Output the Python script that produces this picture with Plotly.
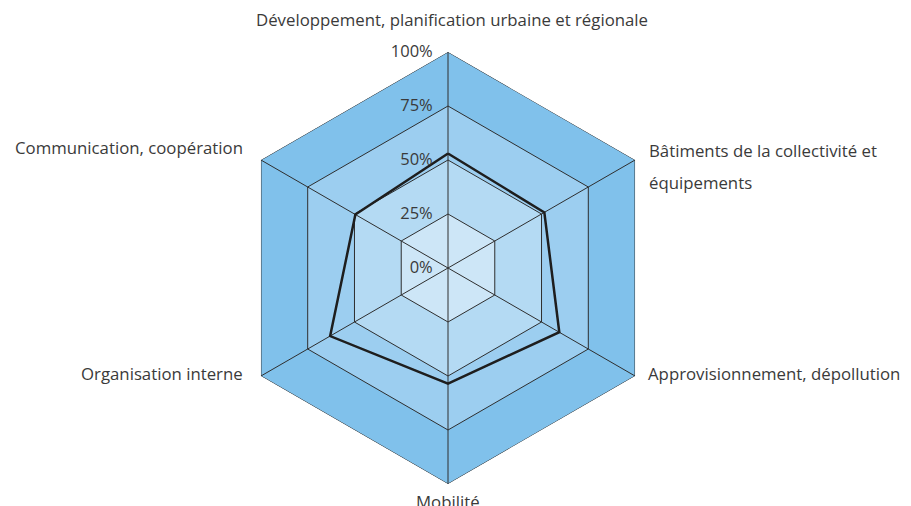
import math
import plotly.graph_objects as go

categories = [
    "Développement, planification urbaine et régionale",
    "Bâtiments de la collectivité et<br>équipements",
    "Approvisionnement, dépollution",
    "Mobilité",
    "Organisation interne",
    "Communication, coopération",
]
values = [53, 51.5, 59.5, 53.5, 63, 49.5]
band_levels = [100, 75, 50, 25]
band_colors = ["#80c1eb", "#9ccef0", "#b4daf3", "#cde6f7"]
radial_ticks = [0, 25, 50, 75, 100]
radial_ticktext = ["0%", "25%", "50%", "75%", "100%"]

grid_color = "#2e2e2e"
text_color = "#3a3a3a"
font_family = "Open Sans, DejaVu Sans, sans-serif"
fig = go.Figure()

closed = categories + [categories[0]]
for lvl, col in zip(band_levels, band_colors):
    fig.add_trace(go.Scatterpolar(
        r=[lvl] * len(closed), theta=closed, mode="lines",
        fill="toself", fillcolor=col,
        line=dict(color=grid_color, width=1), hoverinfo="skip"))

for c in categories:
    fig.add_trace(go.Scatterpolar(
        r=[0, max(band_levels)], theta=[c, c], mode="lines",
        line=dict(color=grid_color, width=1), hoverinfo="skip"))

fig.add_trace(go.Scatterpolar(
    r=values + [values[0]], theta=closed, mode="lines",
    line=dict(color="#1e1e1e", width=2.5)))

# page has an 8px body margin: positions below are in figure pixels
W, H = 903, 498
cx, cy, R = 440, 260, 216

# category label placement (style): anchor and pixel offset from each vertex
label_xanchor = ["center", "left", "left", "center", "right", "right"]
label_dx = [4, 12, 11, 0, -16, -16]
label_dy = [-33, -10, -3, 17, -3, -12]
line_gap = 32

annotations = []
n = len(categories)
for k, cat in enumerate(categories):
    ang = math.radians(90 - 360 * k / n)
    vx = cx + R * math.cos(ang)
    vy = cy - R * math.sin(ang)
    for j, line in enumerate(cat.split("<br>")):
        px = vx + label_dx[k]
        py = vy + label_dy[k] + j * line_gap
        annotations.append(dict(
            text=line, x=px / W, y=1 - py / H, xref="paper", yref="paper",
            xanchor=label_xanchor[k], yanchor="middle", showarrow=False,
            font=dict(family=font_family, size=16.8, color=text_color)))

fig.update_layout(
    width=W, height=H,
    margin=dict(l=0, r=0, t=0, b=0),
    paper_bgcolor="white",
    showlegend=False,
    font=dict(family=font_family, size=16, color=text_color),
    annotations=annotations,
    polar=dict(
        domain=dict(x=[(cx - R) / W, (cx + R) / W],
                    y=[1 - (cy + R) / H, 1 - (cy - R) / H]),
        gridshape="linear",
        bgcolor="white",
        angularaxis=dict(
            direction="clockwise", rotation=90,
            showline=False, showgrid=False, ticks="",
            showticklabels=False,
        ),
        radialaxis=dict(
            range=[0, 100], angle=90, side="counterclockwise",
            tickvals=radial_ticks, ticktext=radial_ticktext,
            tickangle=90, showline=False, showgrid=False,
            ticks="outside", ticklen=9, tickcolor="rgba(0,0,0,0)",
            tickfont=dict(size=16.5, color=text_color),
            layer="above traces",
        ),
    ),
)

fig.write_html("out.html")
